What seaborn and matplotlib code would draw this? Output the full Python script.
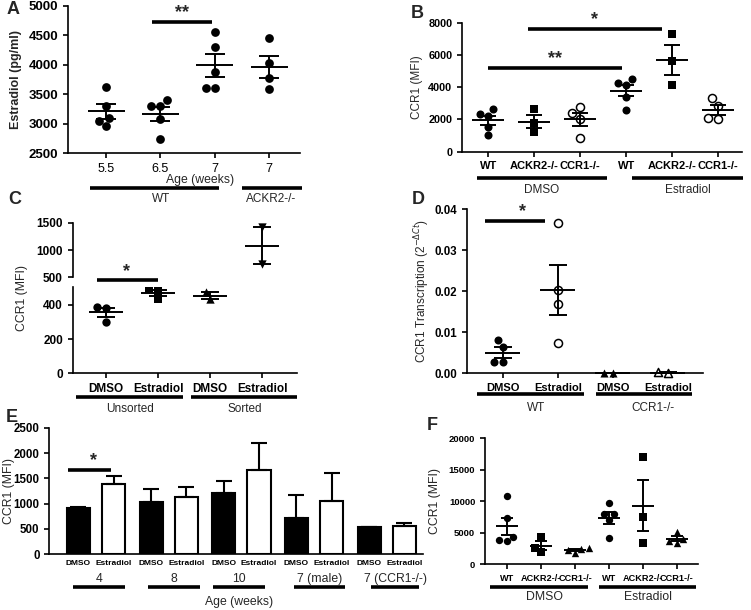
import numpy as np
import pandas as pd
import matplotlib
matplotlib.use('Agg')
import matplotlib.pyplot as plt
import matplotlib.transforms as mtransforms
import seaborn as sns

sns.set_style('ticks')
plt.rcParams['font.family'] = ['Liberation Sans', 'DejaVu Sans']
plt.rcParams['axes.linewidth'] = 1.2
plt.rcParams['xtick.major.width'] = 1.2
plt.rcParams['ytick.major.width'] = 1.2
plt.rcParams['xtick.major.size'] = 3.5
plt.rcParams['ytick.major.size'] = 3.5
plt.rcParams['xtick.color'] = 'black'
plt.rcParams['ytick.color'] = 'black'
plt.rcParams['axes.edgecolor'] = 'black'

# ---- data ----
# A: serum estradiol by age
a_ids = ['wt55', 'wt65', 'wt7', 'ackr7']
a_ticks = ['5.5', '6.5', '7', '7']
a_vals = [[3630, 3300, 3095, 3050, 2955],
          [3300, 3395, 3300, 3075, 2745],
          [4555, 4310, 3875, 3605, 3600],
          [4455, 4025, 3775, 3585]]

# B: CCR1 MFI, DMSO vs estradiol
b_ids = ['d_wt', 'd_ackr', 'd_ccr', 'e_wt', 'e_ackr', 'e_ccr']
b_ticks = ['WT', 'ACKR2-/-', 'CCR1-/-', 'WT', 'ACKR2-/-', 'CCR1-/-']
b_vals = [[2620, 2330, 2230, 1550, 1030],
          [2620, 1750, 1240],
          [2790, 2380, 2000, 830],
          [4500, 4250, 4150, 3400, 2600],
          [7330, 5620, 4130],
          [3300, 2850, 2100, 2050]]

# C: unsorted / sorted
c_ids = ['u_d', 'u_e', 's_d', 's_e']
c_ticks = ['DMSO', 'Estradiol', 'DMSO', 'Estradiol']
c_vals = [[386, 380, 302],
          [492, 484, 435],
          [475, 432],
          [1420, 740]]

# D: CCR1 transcription
d_ids = ['wt_d', 'wt_e', 'ko_d', 'ko_e']
d_ticks = ['DMSO', 'Estradiol', 'DMSO', 'Estradiol']
d_vals = [[0.0081, 0.0065, 0.0027, 0.0027],
          [0.0366, 0.0202, 0.0168, 0.0075],
          [0.0001, 0.0001],
          [0.0001, 0.0002]]

# E: bars by age
e_ages = ['4', '8', '10', '7 (male)', '7 (CCR1-/-)']
e_dmso = [921, 1039, 1217, 724, 539]
e_dmso_sem = [14, 250, 230, 447, 0]
e_estr = [1382, 1132, 1664, 1053, 566]
e_estr_sem = [164, 197, 540, 546, 46]

# F: CCR1 MFI
f_ids = ['d_wt', 'd_ackr', 'd_ccr', 'e_wt', 'e_ackr', 'e_ccr']
f_ticks = ['WT', 'ACKR2-/-', 'CCR1-/-', 'WT', 'ACKR2-/-', 'CCR1-/-']
f_vals = [[10850, 7300, 3700, 4390, 3860],
          [4390, 2650, 1900],
          [1750, 2400, 2250, 2600],
          [9790, 7940, 7940, 7040, 4130],
          [16980, 7460, 3440],
          [5185, 3333, 4000, 3650]]

W, H = 751, 610
fig = plt.figure(figsize=(W / 100, H / 100), dpi=100)


def px_axes(l, t, r, b):
    ax = fig.add_axes([l / W, 1 - b / H, (r - l) / W, (b - t) / H])
    sns.despine(ax=ax)
    return ax


def dots(ax, ids, vals, markers, fills, size, half, cap, keep=None, clip=True):
    if keep is None:
        keep = range(len(ids))
    df = pd.DataFrame({'g': np.repeat(ids, [len(v) for v in vals]),
                       'v': np.concatenate(vals)})
    for i in keep:
        sub = df[df.g == ids[i]]
        sns.swarmplot(data=sub, x='g', y='v', order=ids, ax=ax, marker=markers[i], size=size,
                      color='black' if fills[i] else 'white', edgecolor='black',
                      linewidth=0 if fills[i] else 1.1, zorder=3, clip_on=clip)
    for i in keep:
        v = vals[i]
        m = np.mean(v)
        se = np.std(v, ddof=1) / np.sqrt(len(v))
        ax.hlines(m, i - half, i + half, color='black', lw=1.4, zorder=4, clip_on=clip)
        ax.errorbar(i, m, yerr=se, color='black', lw=1.4, capsize=cap, capthick=1.4, zorder=4,
                    clip_on=clip)
    ax.set_xlabel('')
    ax.set_ylabel('')


def hline(ax, x0, x1, y, axes_y=True, lw=2.6):
    tr = mtransforms.blended_transform_factory(ax.transData, ax.transAxes) if axes_y else ax.transData
    ax.plot([x0, x1], [y, y], color='black', lw=lw, transform=tr, clip_on=False,
            solid_capstyle='butt')


def label(ax, x, y, s, size=8.5, axes_y=True, **kw):
    tr = mtransforms.blended_transform_factory(ax.transData, ax.transAxes) if axes_y else ax.transData
    ax.text(x, y, s, transform=tr, ha='center', va='center', fontsize=size, clip_on=False, **kw)


def star(ax, x, y, s, axes_y=False):
    tr = mtransforms.blended_transform_factory(ax.transData, ax.transAxes) if axes_y else ax.transData
    ax.text(x, y, s, transform=tr, ha='center', va='bottom', fontsize=13, fontweight='bold',
            clip_on=False, zorder=10)


def bold_y(ax, size):
    for t in ax.get_yticklabels():
        t.set_fontweight('bold')
        t.set_fontsize(size)


# ---- A ----
ax = px_axes(68, 6, 300, 153)
dots(ax, a_ids, a_vals, ['o'] * 4, [True] * 4, 6.3, 0.34, 7)
ax.set_xlim(-0.70, 3.57)
ax.set_ylim(2500, 5000)
ax.set_yticks(range(2500, 5001, 500))
ax.set_xticks(range(4))
ax.set_xticklabels(a_ticks, fontsize=9)
bold_y(ax, 9.5)
ax.set_ylabel('Estradiol (pg/ml)', fontsize=9, fontweight='bold')
ax.yaxis.set_label_coords(-0.2, 0.5)
hline(ax, 0.85, 1.95, 4728, axes_y=False)
star(ax, 1.4, 4740, '**')
label(ax, 1.73, -0.185, 'Age (weeks)', size=8.8)
hline(ax, -0.29, 2.08, -0.238)
label(ax, 1.02, -0.31, 'WT')
hline(ax, 2.5, 3.6, -0.238)
label(ax, 3.04, -0.31, 'ACKR2-/-')

# ---- B ----
ax = px_axes(462, 22.7, 742, 151.7)
dots(ax, b_ids, b_vals, ['o', 's', 'o', 'o', 's', 'o'],
     [True, True, False, True, True, False], 5.8, 0.35, 6)
ax.set_xlim(-0.57, 5.52)
ax.set_ylim(0, 8000)
ax.set_yticks(range(0, 8001, 2000))
ax.set_xticks(range(6))
ax.set_xticklabels(b_ticks, fontsize=8, fontweight='bold')
bold_y(ax, 7.8)
ax.set_ylabel('CCR1 (MFI)', fontsize=8.5)
ax.yaxis.set_label_coords(-0.14, 0.5)
hline(ax, 0, 2.91, 5209, axes_y=False)
star(ax, 1.45, 5250, '**')
hline(ax, 0.87, 3.78, 7609, axes_y=False)
star(ax, 2.32, 7650, '*')
hline(ax, -0.24, 2.59, -0.204)
label(ax, 1.17, -0.297, 'DMSO')
hline(ax, 3.13, 5.54, -0.204)
label(ax, 4.35, -0.297, 'Estradiol')

# ---- C (broken axis) ----
axl = px_axes(72.7, 287, 297, 373.3)
axu = px_axes(72.7, 222.7, 297, 277.3)
axu.patch.set_visible(False)
dots(axl, c_ids, c_vals, ['o', 's', '^', 'v'], [True] * 4, 6, 0.32, 6.5, keep=[0, 1, 2])
dots(axu, c_ids, c_vals, ['o', 's', '^', 'v'], [True] * 4, 6, 0.32, 6.5, keep=[3])
for a in (axl, axu):
    a.set_xlim(-0.64, 3.67)
axl.set_ylim(0, 505)
axl.set_yticks([0, 200, 400])
axu.set_ylim(500, 1500)
axu.set_yticks([500, 1000, 1500])
axu.spines['bottom'].set_visible(False)
axu.tick_params(axis='x', bottom=False, labelbottom=False)
axl.set_xticks(range(4))
axl.set_xticklabels(c_ticks, fontsize=8.5, fontweight='bold')
bold_y(axl, 8.5)
bold_y(axu, 8.5)
axl.set_ylabel('CCR1 (MFI)', fontsize=8.8)
axl.yaxis.set_label_coords(-0.2, 0.87)
hline(axu, -0.18, 1.0, -0.05)
star(axu, 0.4, -0.05, '*', axes_y=True)
hline(axl, -0.58, 1.48, -0.275)
label(axl, 0.46, -0.41, 'Unsorted')
hline(axl, 1.63, 3.67, -0.275)
label(axl, 2.67, -0.41, 'Sorted')

# ---- D ----
ax = px_axes(467, 209.3, 703, 373.3)
dots(ax, d_ids, d_vals, ['o', 'o', '^', '^'], [True, False, True, False], 5.8, 0.32, 6.5,
     clip=False)
ax.set_xlim(-0.65, 3.64)
ax.set_ylim(0, 0.04)
ax.set_yticks([0, 0.01, 0.02, 0.03, 0.04])
ax.set_yticklabels(['0.00', '0.01', '0.02', '0.03', '0.04'])
ax.set_xticks(range(4))
ax.set_xticklabels(d_ticks, fontsize=8, fontweight='bold')
bold_y(ax, 8.3)
ax.set_ylabel(r'CCR1 Transcription (2$^{-\Delta Ct}$)', fontsize=8.5)
ax.yaxis.set_label_coords(-0.15, 0.5)
hline(ax, -0.33, 0.76, 0.0372, axes_y=False)
star(ax, 0.35, 0.0373, '*')
hline(ax, -0.47, 1.47, -0.126)
label(ax, 0.6, -0.21, 'WT')
hline(ax, 1.69, 3.44, -0.126)
label(ax, 2.73, -0.21, 'CCR1-/-')

# ---- E ----
ax = px_axes(49.3, 427.7, 423, 554.3)
e_df = pd.DataFrame({'age': e_ages * 2,
                     'treat': ['DMSO'] * len(e_ages) + ['Estradiol'] * len(e_ages),
                     'mfi': e_dmso + e_estr})
sns.barplot(data=e_df, x='age', y='mfi', hue='treat', order=e_ages,
            hue_order=['DMSO', 'Estradiol'], palette={'DMSO': 'black', 'Estradiol': 'white'},
            edgecolor='black', linewidth=1.5, width=0.97, gap=0.344, errorbar=None,
            legend=False, saturation=1, ax=ax)
bars = sorted(ax.patches, key=lambda p: p.get_x())
bx = [p.get_x() + p.get_width() / 2 for p in bars]
bh = [p.get_height() for p in bars]
sems = [s for pair in zip(e_dmso_sem, e_estr_sem) for s in pair]
ax.errorbar(bx, bh, yerr=[np.zeros(len(sems)), sems], fmt='none', ecolor='black',
            elinewidth=1.5, capsize=6, capthick=1.5, zorder=1)
ax.set_xlim(-0.644, 4.5)
ax.set_ylim(0, 2500)
ax.set_yticks(range(0, 2501, 500))
ax.set_xticks(bx)
ax.set_xticklabels(['DMSO', 'Estradiol'] * len(e_ages), fontsize=6, fontweight='bold')
ax.tick_params(axis='x', length=0, pad=4)
bold_y(ax, 8.3)
ax.set_xlabel('')
ax.set_ylabel('CCR1 (MFI)', fontsize=8.8)
ax.yaxis.set_label_coords(-0.092, 0.5)
hline(ax, -0.385, 0.21, 1665, axes_y=False)
star(ax, -0.04, 1680, '*')
e_spans = [(-0.32, 0.40), (0.71, 1.43), (1.61, 2.33), (2.72, 3.43), (3.79, 4.45)]
for (x0, x1), g in zip(e_spans, e_ages):
    hline(ax, x0, x1, -0.258)
    label(ax, (x0 + x1) / 2, -0.195, g, size=8.8)
label(ax, 1.97, -0.377, 'Age (weeks)', size=8.8)

# ---- F ----
ax = px_axes(485, 438.3, 698, 564.3)
dots(ax, f_ids, f_vals, ['o', 's', '^', 'o', 's', '^'], [True] * 6, 5.3, 0.33, 4)
ax.set_xlim(-0.65, 5.62)
ax.set_ylim(0, 20000)
ax.set_yticks(range(0, 20001, 5000))
ax.set_xticks(range(6))
ax.set_xticklabels(f_ticks, fontsize=6.6, fontweight='bold')
bold_y(ax, 6.8)
ax.set_ylabel('CCR1 (MFI)', fontsize=8.8)
ax.yaxis.set_label_coords(-0.205, 0.5)
hline(ax, -0.5, 2.38, -0.18)
label(ax, 1.09, -0.26, 'DMSO', size=8.8)
hline(ax, 2.7, 5.56, -0.18)
label(ax, 4.15, -0.26, 'Estradiol', size=8.8)

# panel letters
for s, x, y in [('A', 13, 10), ('B', 417, 13), ('C', 15, 200), ('D', 418, 200),
                ('E', 12, 418), ('F', 432, 425)]:
    fig.text(x / W, 1 - y / H, s, fontsize=13, fontweight='bold', ha='center', va='center')

fig.savefig('out.png', dpi=100)
